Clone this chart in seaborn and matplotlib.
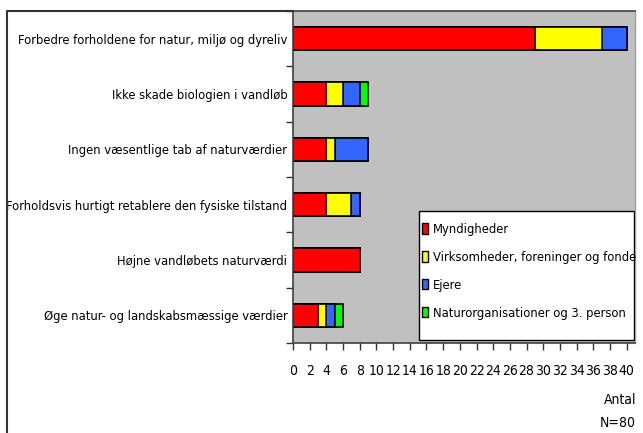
import matplotlib
matplotlib.use("Agg")
import matplotlib.pyplot as plt
from matplotlib.lines import Line2D
from matplotlib.patches import Patch, Rectangle
import seaborn as sns
import pandas as pd
import numpy as np

categories = [
    "Forbedre forholdene for natur, miljø og dyreliv",
    "Ikke skade biologien i vandløb",
    "Ingen væsentlige tab af naturværdier",
    "Forholdsvis hurtigt retablere den fysiske tilstand",
    "Højne vandløbets naturværdi",
    "Øge natur- og landskabsmæssige værdier",
]
series_names = [
    "Myndigheder",
    "Virksomheder, foreninger og fonde",
    "Ejere",
    "Naturorganisationer og 3. person",
]
myndigheder = [29, 4, 4, 4, 8, 3]
virksomheder = [8, 2, 1, 3, 0, 1]
ejere = [3, 2, 4, 1, 0, 1]
naturorg = [0, 1, 0, 0, 0, 1]
colors = ["#FF0000", "#FFFF00", "#3366FF", "#00FF00"]
xticks = list(range(0, 41, 2))

sns.set_style("white")
plt.rcParams["font.family"] = ["DejaVu Sans"]
plt.rcParams["font.stretch"] = "condensed"
plt.rcParams["text.color"] = "black"
plt.rcParams["xtick.labelcolor"] = "black"
plt.rcParams["ytick.labelcolor"] = "black"

fig = plt.figure(figsize=(6.43, 4.33), dpi=100)
ax = fig.add_axes([293 / 643, 1 - 343 / 433, (635 - 293) / 643, (343 - 11) / 433])
ax.set_facecolor("#C0C0C0")

series = [myndigheder, virksomheder, ejere, naturorg]
cum = np.cumsum(np.array(series), axis=0)
df = pd.DataFrame({"kategori": categories})
for i in range(len(series)):
    df[f"cum{i}"] = cum[i]

for i in reversed(range(len(series))):
    sns.barplot(data=df, y="kategori", x=f"cum{i}", orient="h", color=colors[i],
                saturation=1, width=0.42, edgecolor="black", linewidth=1.2,
                ax=ax, order=categories)

ax.set_xlim(0, 41)
ax.set_ylim(5.5, -0.5)
ax.set_xticks(xticks)
ax.set_xticklabels([str(t) for t in xticks], fontsize=10)
ax.set_yticks(range(len(categories)))
ax.set_yticklabels(categories, fontsize=9.3)
ax.set_yticks(np.arange(-0.5, len(categories), 1), minor=True)
ax.tick_params(axis="y", which="major", length=0, pad=4)
ax.tick_params(axis="y", which="minor", length=5, width=1, color="#333333", direction="out", left=True)
ax.tick_params(axis="x", which="major", length=5, width=1, color="#333333", direction="out", bottom=True, pad=10)
ax.set_xlabel("")
ax.set_ylabel("")

for s in ["left", "bottom", "top"]:
    ax.spines[s].set_color("#404040")
    ax.spines[s].set_linewidth(1.2)
ax.spines["right"].set_color("#A0A0A0")
ax.spines["right"].set_linewidth(1)

# legend box
ax.add_patch(Rectangle((0.368, 0.009), 0.629, 0.389, transform=ax.transAxes,
                       facecolor="white", edgecolor="black", linewidth=1, zorder=5))
handles = [Patch(facecolor=c, edgecolor="black", linewidth=1) for c in colors]
leg = ax.legend(handles, series_names, loc="upper left",
                bbox_to_anchor=(0.377, (343 - 223) / 332),
                frameon=False, fontsize=9.3, handlelength=0.5,
                handleheight=0.85, handletextpad=0.35, labelspacing=1.15,
                borderpad=0, borderaxespad=0)
leg.set_zorder(6)

fig.text(636 / 643, 1 - 400 / 433, "Antal", ha="right", va="center", fontsize=10)
fig.text(636 / 643, 1 - 423 / 433, "N=80", ha="right", va="center", fontsize=10)

fig.add_artist(Line2D([7 / 643, 7 / 643], [0, 1 - 11 / 433], transform=fig.transFigure,
                      color="#333333", linewidth=1.5))
fig.add_artist(Line2D([7 / 643, 293 / 643], [1 - 11 / 433, 1 - 11 / 433], transform=fig.transFigure,
                      color="#333333", linewidth=1.5))

fig.savefig("out.png", dpi=100)
